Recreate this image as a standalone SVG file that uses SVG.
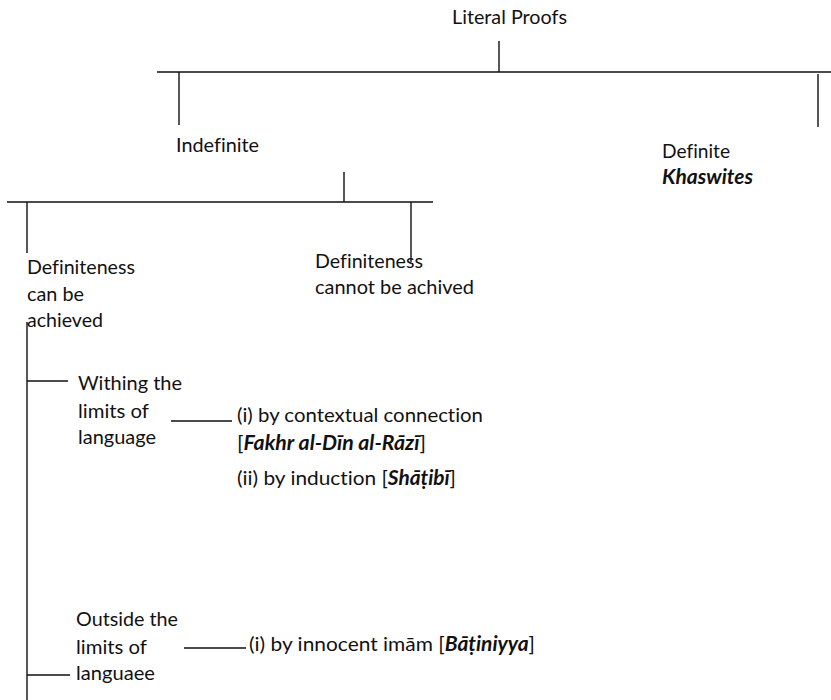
<svg xmlns="http://www.w3.org/2000/svg" width="831" height="700" viewBox="0 0 831 700">
<style>
text{font-family:Lato,"Open Sans","Liberation Sans",sans-serif;font-size:20px;fill:#111;font-variant-ligatures:none;}
.bi{font-weight:bold;font-style:italic;}
.ln{stroke:#111;stroke-width:1.4;fill:none;}
</style>
<rect width="831" height="700" fill="#fff"/>
<g id="connectors">
<path class="ln" d="M499,41V72 M157,72H831 M179,72V125 M818,74V127"/>
<path class="ln" d="M344,172V202 M7,202H433 M27,202V253 M411,202V262"/>
<path class="ln" d="M27,322V700 M27,381H68 M27,675H70"/>
<path class="ln" d="M171,421H232 M184,648H246"/>
</g>
<g id="n-literal"><text x="452" y="24" textLength="115" lengthAdjust="spacingAndGlyphs">Literal Proofs</text></g>
<g id="n-indefinite"><text x="176" y="152" textLength="83" lengthAdjust="spacingAndGlyphs">Indefinite</text></g>
<g id="n-definite"><text x="662" y="158" textLength="68" lengthAdjust="spacingAndGlyphs">Definite</text><text class="bi" x="662" y="184" textLength="91" lengthAdjust="spacingAndGlyphs">Khaswites</text></g>
<g id="n-can"><text x="27" y="274" textLength="108" lengthAdjust="spacingAndGlyphs">Definiteness</text><text x="27" y="301" textLength="57" lengthAdjust="spacingAndGlyphs">can be</text><text x="27" y="327" textLength="76" lengthAdjust="spacingAndGlyphs">achieved</text></g>
<g id="n-cannot"><text x="315" y="268" textLength="108" lengthAdjust="spacingAndGlyphs">Definiteness</text><text x="315" y="294" textLength="159" lengthAdjust="spacingAndGlyphs">cannot be achived</text></g>
<g id="n-within"><text x="78" y="390" textLength="104" lengthAdjust="spacingAndGlyphs">Withing the</text><text x="78" y="418" textLength="71" lengthAdjust="spacingAndGlyphs">limits of</text><text x="78" y="444" textLength="78" lengthAdjust="spacingAndGlyphs">language</text></g>
<g id="n-within-items"><text x="237" y="422" textLength="246" lengthAdjust="spacingAndGlyphs">(i) by contextual connection</text><text x="237" y="450" textLength="189" lengthAdjust="spacingAndGlyphs">[<tspan class="bi">Fakhr al-Dīn al-Rāzī</tspan>]</text><text x="237" y="485" textLength="219" lengthAdjust="spacingAndGlyphs">(ii) by induction [<tspan class="bi">Shāṭibī</tspan>]</text></g>
<g id="n-outside"><text x="76" y="626" textLength="102" lengthAdjust="spacingAndGlyphs">Outside the</text><text x="76" y="654" textLength="71" lengthAdjust="spacingAndGlyphs">limits of</text><text x="76" y="680" textLength="79" lengthAdjust="spacingAndGlyphs">languaee</text></g>
<g id="n-outside-items"><text x="249" y="651" textLength="286" lengthAdjust="spacingAndGlyphs">(i) by innocent imām [<tspan class="bi">Bāṭiniyya</tspan>]</text></g>
</svg>
